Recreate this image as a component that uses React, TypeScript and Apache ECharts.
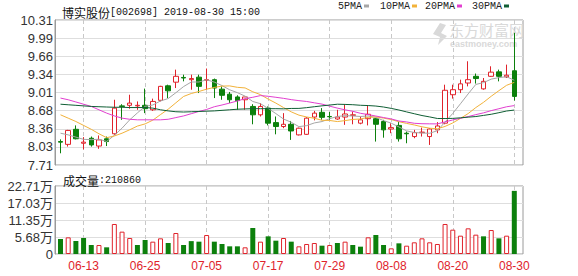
import React, { useEffect, useRef } from "react";
import * as echarts from "echarts";

const dates = ["06-10","06-11","06-12","06-13","06-14","06-17","06-18","06-19","06-20","06-21","06-24","06-25","06-26","06-27","06-28","07-01","07-02","07-03","07-04","07-05","07-08","07-09","07-10","07-11","07-12","07-15","07-16","07-17","07-18","07-19","07-22","07-23","07-24","07-25","07-26","07-29","07-30","07-31","08-01","08-02","08-05","08-06","08-07","08-08","08-09","08-12","08-13","08-14","08-15","08-16","08-19","08-20","08-21","08-22","08-23","08-26","08-27","08-28","08-29","08-30"];

const openP = [8.13,8.08,8.35,8.10,8.19,8.05,8.18,8.27,8.77,8.78,8.77,8.78,8.70,8.87,9.13,9.195,9.28,9.24,9.285,9.23,9.24,9.07,8.98,8.93,8.88,8.76,8.61,8.73,8.47,8.40,8.44,8.25,8.26,8.57,8.655,8.58,8.535,8.57,8.60,8.46,8.54,8.54,8.49,8.355,8.42,8.28,8.22,8.29,8.22,8.34,8.46,8.97,9.06,9.18,9.30,9.075,9.30,9.38,9.29,9.40];
const closeP = [8.12,8.33,8.18,8.12,8.07,8.16,8.13,8.73,8.76,8.82,8.78,8.72,8.85,9.12,9.04,9.30,9.27,9.26,9.12,9.24,9.09,8.96,8.88,8.865,8.93,8.61,8.76,8.46,8.40,8.44,8.32,8.37,8.55,8.64,8.565,8.575,8.57,8.625,8.61,8.52,8.62,8.44,8.34,8.38,8.18,8.27,8.29,8.30,8.355,8.41,9.05,9.06,9.165,9.24,9.26,9.21,9.375,9.30,9.32,8.94];
const lowP = [7.92,8.04,8.17,7.99,8.04,8.00,8.05,8.25,8.52,8.72,8.70,8.64,8.68,8.85,8.91,9.09,9.21,9.06,9.00,9.06,8.91,8.88,8.82,8.70,8.70,8.44,8.58,8.42,8.26,8.37,8.16,8.24,8.25,8.51,8.52,8.52,8.52,8.43,8.44,8.44,8.42,8.13,8.20,8.28,8.13,8.10,8.19,8.22,8.07,8.28,8.44,8.90,9.00,9.12,9.17,9.06,9.29,9.21,9.27,8.865];
const highP = [8.17,8.34,8.42,8.21,8.22,8.24,8.22,8.88,8.80,8.97,8.85,9.08,8.90,9.13,9.15,9.42,9.33,9.33,9.33,9.44,9.26,9.12,9.02,8.96,8.93,8.80,8.82,8.76,8.58,8.64,8.50,8.38,8.57,8.68,8.73,8.66,8.70,8.79,8.67,8.58,8.78,8.55,8.52,8.46,8.48,8.31,8.34,8.38,8.37,8.48,9.15,9.15,9.24,9.57,9.35,9.27,9.48,9.42,9.51,10.08];

const ma5 = [8.28,8.25,8.21,8.17,8.164,8.172,8.132,8.242,8.37,8.52,8.644,8.762,8.786,8.858,8.902,9.006,9.116,9.198,9.198,9.238,9.196,9.134,9.058,9.007,8.945,8.849,8.809,8.725,8.632,8.534,8.476,8.398,8.416,8.464,8.489,8.54,8.58,8.595,8.589,8.58,8.589,8.563,8.506,8.46,8.392,8.322,8.292,8.284,8.279,8.325,8.481,8.635,8.808,8.985,9.155,9.187,9.25,9.277,9.293,9.229];
const ma10 = [8.61,8.55,8.49,8.42,8.35,8.27,8.20,8.23,8.28,8.342,8.408,8.447,8.514,8.614,8.711,8.825,8.939,8.992,9.028,9.07,9.101,9.125,9.128,9.103,9.092,9.023,8.972,8.892,8.82,8.74,8.663,8.604,8.571,8.548,8.512,8.508,8.489,8.506,8.527,8.535,8.565,8.572,8.551,8.525,8.486,8.456,8.428,8.395,8.37,8.359,8.402,8.464,8.546,8.632,8.74,8.834,8.943,9.043,9.139,9.192];
const ma20 = [8.91,8.88,8.84,8.80,8.76,8.70,8.64,8.59,8.55,8.53,8.52,8.52,8.52,8.52,8.53,8.56,8.59,8.63,8.67,8.706,8.755,8.786,8.821,8.858,8.901,8.924,8.955,8.942,8.924,8.905,8.882,8.864,8.849,8.825,8.802,8.765,8.73,8.699,8.673,8.637,8.614,8.588,8.561,8.536,8.499,8.482,8.458,8.45,8.448,8.447,8.483,8.518,8.548,8.578,8.613,8.645,8.685,8.719,8.754,8.775];
const ma30 = [8.80,8.79,8.78,8.77,8.76,8.755,8.75,8.745,8.745,8.74,8.74,8.74,8.73,8.70,8.68,8.665,8.66,8.665,8.67,8.675,8.68,8.69,8.70,8.71,8.715,8.72,8.72,8.72,8.72,8.717,8.724,8.725,8.738,8.755,8.771,8.785,8.8,8.796,8.791,8.781,8.776,8.767,8.75,8.725,8.696,8.662,8.629,8.597,8.572,8.544,8.543,8.546,8.556,8.568,8.579,8.599,8.62,8.648,8.678,8.695];

const volumes = [50100,55600,43400,53400,30000,30000,22300,100200,74600,53400,30000,46700,41200,52300,36700,70100,30000,43000,41200,63400,41200,33400,25600,25600,22300,86800,41200,59000,44500,53400,41200,25600,33400,36700,27800,30000,36700,41200,30000,24500,55700,63400,30000,18900,35600,27800,39000,52300,39000,33400,100200,81200,61200,85700,64600,59000,80100,52300,61200,210860];

const priceTicks = ["7.71","8.03","8.36","8.68","9.01","9.34","9.66","9.99","10.31"];
const volumeTicks = ["0","5.68万","11.35万","17.03万","22.71万"];
const maNames = ["5PMA", "10PMA", "20PMA", "30PMA"];

const stockTitle = "博实股份";
const stockInfo = "[002698] 2019-08-30 15:00";

const RED = "#e0232b";
const GREEN = "#0c800c";
const MA_COLORS = ["#a6a6a6", "#f2b23a", "#e23fd0", "#0f5e34"];
const PMIN = 7.71, PMAX = 10.31, PINT = 0.325;
const VMAX = 227100, VINT = 56775;

const labelAt = (i: number) => i >= 3 && (i - 3) % 8 === 0;

export default function App() {
  const ref = useRef<HTMLDivElement>(null);
  useEffect(() => {
    if (!ref.current) return;
    const chart = echarts.init(ref.current, undefined, { renderer: "svg" });
    const mono = '"Liberation Mono", "DejaVu Sans Mono", monospace';
    const cjk = '"Noto Sans CJK SC", sans-serif';
    const sans = '"Liberation Sans", Arial, sans-serif';
    const dataLeft = 60.5, dataRight = 578 - 514.3;

    const candleData = dates.map((_, i) => [openP[i], closeP[i], lowP[i], highP[i]]);
    const volData = volumes.map((v, i) => {
      const up = i > 0 && closeP[i] >= closeP[i - 1];
      return {
        value: v,
        itemStyle: up
          ? { color: "#ffffff", borderColor: RED, borderWidth: 1 }
          : { color: GREEN, borderColor: GREEN, borderWidth: 0 },
      };
    });
    const maData = [ma5, ma10, ma20, ma30];
    const legendLefts = [338, 380, 425, 472];
    const richText = {
      a: { fontFamily: cjk, fontSize: 12, color: "#111", fontWeight: "normal" },
      b: { fontFamily: mono, fontSize: 10, color: "#111", fontWeight: "normal" },
    };

    chart.setOption({
      animation: false,
      backgroundColor: "#ffffff",
      title: [
        {
          text: `{a|${stockTitle}}{b|${stockInfo}}`,
          left: 57,
          top: 1,
          textStyle: { fontWeight: "normal", rich: richText },
        },
        {
          text: `{a|成交量}{b|:${volumes[volumes.length - 1]}}`,
          left: 58,
          top: 169,
          textStyle: { fontWeight: "normal", rich: richText },
        },
      ],
      legend: maNames.map((n, k) => ({
        data: [n],
        left: legendLefts[k],
        top: 1,
        align: "right",
        icon: "rect",
        itemWidth: 5,
        itemHeight: 3,
        padding: 0,
        selectedMode: false,
        textStyle: { fontFamily: mono, fontSize: 10, color: "#222", padding: [0, -3, 0, 0] },
      })),
      grid: [
        { left: 55, right: 55, top: 20, height: 145, show: true, borderColor: "#9a9a9a", borderWidth: 1, backgroundColor: "transparent" },
        { left: dataLeft, right: dataRight, top: 20, height: 145 },
        { left: 55, right: 55, top: 186, height: 68, show: true, borderColor: "#9a9a9a", borderWidth: 1, backgroundColor: "transparent" },
        { left: dataLeft, right: dataRight, top: 186, height: 68 },
      ],
      xAxis: [
        { gridIndex: 0, type: "value", min: 0, max: 1, show: false },
        {
          gridIndex: 1, type: "category", data: dates, boundaryGap: false,
          axisLine: { show: false }, axisTick: { show: false }, axisLabel: { show: false },
          splitLine: { show: true, interval: labelAt, lineStyle: { type: [4, 3], color: "#c8c8c8", width: 1 } },
        },
        { gridIndex: 2, type: "value", min: 0, max: 1, show: false },
        {
          gridIndex: 3, type: "category", data: dates, boundaryGap: false,
          axisLine: { show: false }, axisTick: { show: false },
          axisLabel: { interval: labelAt, color: RED, fontFamily: sans, fontSize: 12, margin: 6 },
          splitLine: { show: true, interval: labelAt, lineStyle: { type: [4, 3], color: "#c8c8c8", width: 1 } },
        },
      ],
      yAxis: [
        {
          gridIndex: 0, type: "value", min: PMIN, max: PMAX, interval: PINT,
          axisLine: { show: true, lineStyle: { color: "#9a9a9a" } }, axisTick: { show: false },
          axisLabel: {
            margin: 2, color: "#333", fontFamily: sans, fontSize: 13,
            formatter: (v: number) => priceTicks[Math.round((v - PMIN) / PINT)] ?? "",
          },
          splitLine: { show: true, lineStyle: { color: "#dedede" } },
        },
        { gridIndex: 1, type: "value", min: PMIN, max: PMAX, show: false },
        {
          gridIndex: 2, type: "value", min: 0, max: VMAX, interval: VINT,
          axisLine: { show: true, lineStyle: { color: "#9a9a9a" } }, axisTick: { show: false },
          axisLabel: {
            margin: 2, color: "#333", fontFamily: `${sans.split(",")[0]}, ${cjk}`, fontSize: 13,
            formatter: (v: number) => volumeTicks[Math.round(v / VINT)] ?? "",
          },
          splitLine: { show: true, lineStyle: { color: "#dedede" } },
        },
        { gridIndex: 3, type: "value", min: 0, max: VMAX, show: false },
      ],
      graphic: [
        {
          type: "text", left: 449, top: 22, z: 0, silent: true,
          style: { text: "东方财富网", fontFamily: cjk, fontSize: 15, fill: "#d9d9d9" },
        },
        {
          type: "text", left: 450, top: 39, z: 0, silent: true,
          style: { text: "eastmoney.com", fontFamily: sans, fontSize: 9, fontWeight: "bold", fill: "#d9d9d9" },
        },
        {
          type: "polygon", z: 0, silent: true,
          shape: { points: [[440, 23], [446, 25], [441, 33], [447, 36], [438, 45], [440, 37], [433, 34]] },
          style: { fill: "#d9d9d9" },
        },
      ],
      series: [
        {
          type: "candlestick", name: "K", xAxisIndex: 1, yAxisIndex: 1, data: candleData,
          barWidth: 5, clip: false,
          itemStyle: { color: "#ffffff", color0: GREEN, borderColor: RED, borderColor0: GREEN, borderWidth: 1 },
        },
        ...maData.map((d, k) => ({
          type: "line", name: maNames[k], xAxisIndex: 1, yAxisIndex: 1, data: d,
          symbol: "none", showSymbol: false, clip: false,
          lineStyle: { color: MA_COLORS[k], width: 1 },
          itemStyle: { color: MA_COLORS[k] },
        })),
        {
          type: "bar", name: "VOL", xAxisIndex: 3, yAxisIndex: 3, data: volData,
          barWidth: 5, clip: false,
        },
      ],
    });
    return () => chart.dispose();
  }, []);
  return (
    <div
      ref={ref}
      style={{ position: "fixed", left: 0, top: 0, width: 578, height: 276, background: "#fff" }}
    />
  );
}
